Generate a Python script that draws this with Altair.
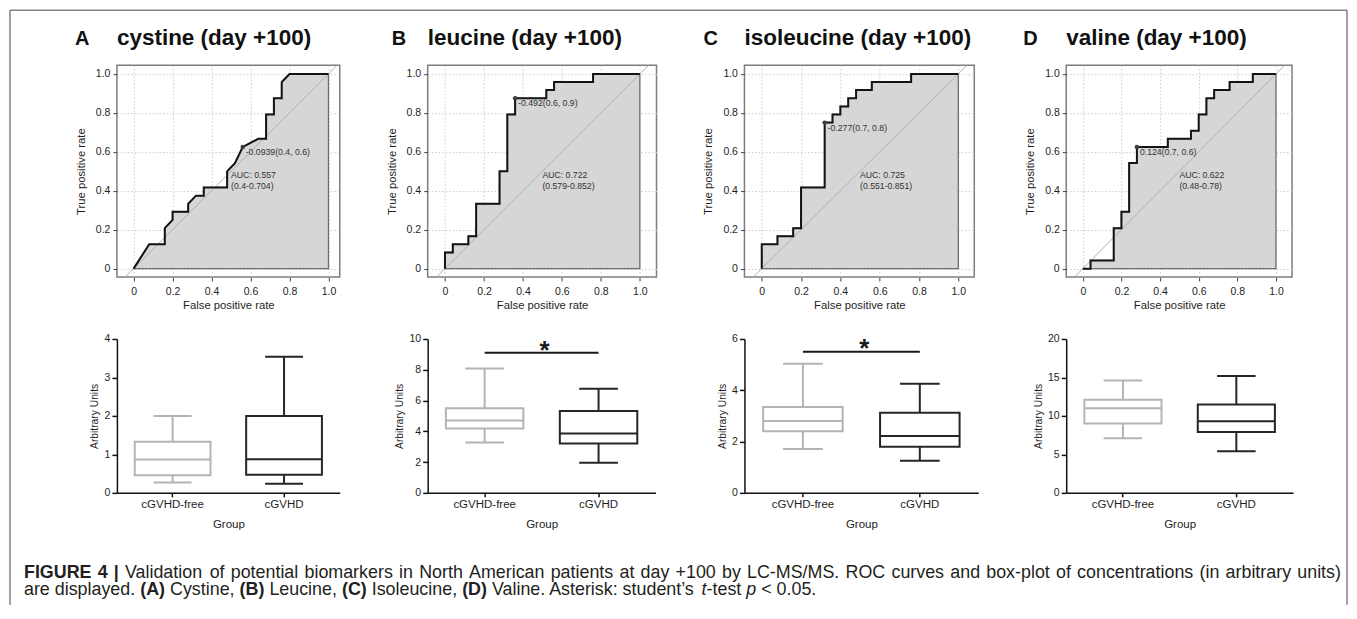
import altair as alt
import pandas as pd

FONT = "Liberation Sans"

# ---------------- data ----------------
letters = ["A", "B", "C", "D"]
titles = ["cystine (day +100)", "leucine (day +100)", "isoleucine (day +100)", "valine (day +100)"]

fpr_A = [0, 0.08, 0.16, 0.16, 0.20, 0.20, 0.28, 0.28, 0.32, 0.36, 0.36, 0.48, 0.48, 0.52, 0.56, 0.60, 0.64, 0.68, 0.68, 0.72, 0.72, 0.76, 0.76, 0.80, 1.0]
tpr_A = [0, 0.125, 0.125, 0.208, 0.25, 0.292, 0.292, 0.333, 0.375, 0.375, 0.417, 0.417, 0.5, 0.542, 0.625, 0.646, 0.667, 0.667, 0.792, 0.792, 0.875, 0.875, 0.958, 1.0, 1.0]
fpr_B = [0, 0, 0.04, 0.04, 0.12, 0.12, 0.16, 0.16, 0.28, 0.28, 0.32, 0.32, 0.36, 0.36, 0.52, 0.52, 0.56, 0.56, 0.76, 0.76, 1.0]
tpr_B = [0, 0.083, 0.083, 0.125, 0.125, 0.167, 0.167, 0.333, 0.333, 0.5, 0.5, 0.792, 0.792, 0.875, 0.875, 0.917, 0.917, 0.958, 0.958, 1.0, 1.0]
fpr_C = [0, 0, 0.08, 0.08, 0.16, 0.16, 0.20, 0.20, 0.32, 0.32, 0.36, 0.36, 0.40, 0.40, 0.44, 0.44, 0.48, 0.48, 0.56, 0.56, 0.76, 0.76, 1.0]
tpr_C = [0, 0.125, 0.125, 0.167, 0.167, 0.208, 0.208, 0.417, 0.417, 0.75, 0.75, 0.792, 0.792, 0.833, 0.833, 0.875, 0.875, 0.917, 0.917, 0.958, 0.958, 1.0, 1.0]
fpr_D = [0, 0.04, 0.04, 0.16, 0.16, 0.20, 0.20, 0.24, 0.24, 0.28, 0.28, 0.44, 0.44, 0.56, 0.56, 0.60, 0.60, 0.64, 0.64, 0.68, 0.68, 0.76, 0.76, 0.88, 0.88, 1.0]
tpr_D = [0, 0, 0.042, 0.042, 0.208, 0.208, 0.292, 0.292, 0.542, 0.542, 0.625, 0.625, 0.667, 0.667, 0.708, 0.708, 0.792, 0.792, 0.875, 0.875, 0.917, 0.917, 0.958, 0.958, 1.0, 1.0]
roc_fpr = [fpr_A, fpr_B, fpr_C, fpr_D]
roc_tpr = [tpr_A, tpr_B, tpr_C, tpr_D]

best_fpr = [0.56, 0.36, 0.32, 0.28]
best_tpr = [0.625, 0.875, 0.75, 0.625]
best_labels = ["-0.0939(0.4, 0.6)", "-0.492(0.6, 0.9)", "-0.277(0.7, 0.8)", "0.124(0.7, 0.6)"]
auc_labels = [["AUC: 0.557", "(0.4-0.704)"], ["AUC: 0.722", "(0.579-0.852)"],
              ["AUC: 0.725", "(0.551-0.851)"], ["AUC: 0.622", "(0.48-0.78)"]]
auc_pos = [0.5, 0.48]
diag = [-0.2, 1.2]
roc_grid = [0, 0.1, 0.2, 0.3, 0.4, 0.5, 0.6, 0.7, 0.8, 0.9, 1.0]

groups = ["cGVHD-free", "cGVHD"]
box_lo = [[0.27, 0.24], [3.28, 1.96], [1.71, 1.25], [7.1, 5.4]]
box_q1 = [[0.455, 0.47], [4.18, 3.21], [2.4, 1.8], [9.0, 7.9]]
box_med = [[0.87, 0.875], [4.7, 3.86], [2.8, 2.22], [11.0, 9.3]]
box_q3 = [[1.33, 2.0], [5.5, 5.32], [3.35, 3.12], [12.1, 11.5]]
box_hi = [[2.0, 3.54], [8.08, 6.77], [5.03, 4.25], [14.6, 15.2]]
box_yticks = [[0, 1, 2, 3, 4], [0, 2, 4, 6, 8, 10], [0, 2, 4, 6], [0, 5, 10, 15, 20]]
sig_y = [None, 9.1, 5.5, None]
star_y = [None, 9.63, 5.83, None]

caption_line1 = ("FIGURE 4 | Validation of potential biomarkers in North American patients at day +100 "
                 "by LC-MS/MS. ROC curves and box-plot of concentrations (in arbitrary units)")
caption_line2 = [("are displayed. ", "r"), ("(A)", "b"), (" Cystine, ", "r"), ("(B)", "b"),
                 (" Leucine, ", "r"), ("(C)", "b"), (" Isoleucine, ", "r"), ("(D)", "b"),
                 (" Valine. Asterisk: student\u2019s ", "r"), ("t", "i"), ("-test ", "r"),
                 ("p", "i"), (" < 0.05.", "r")]

# ---------------- layout / style ----------------
ROC_W = [223, 229, 230, 226]
ROC_H = 212
ROC_X0 = [16.7, 17.3, 17.3, 16.6]      # px from frame left to x=0
ROC_PPU = [195, 195, 196.7, 193.3]     # px per unit
roc_xdom = [[-o / p, (w - o) / p] for o, p, w in zip(ROC_X0, ROC_PPU, ROC_W)]
roc_ydom = [-0.043, 1.045]
LETTER_DX = [-42, -36, -41, -43]
BOX_W = [223, 228, 234, 227]
BOX_H = 154
PAD_IN, PAD_OUT = 0.32, 0.16
BOX_COLORS = ["#b4b4b4", "#262626"]
FILL = "#d6d6d6"
TXT = "#1e1e1e"

one = pd.DataFrame({"k": [0]})

lab_expr = ("(round(datum.value*10) % 2 == 0) ? "
            "(datum.value == 0 ? '0' : format(datum.value, '.1f')) : ''")
tick_cond = {"condition": {"test": "round(datum.value*10) % 2 == 1", "value": 0}, "value": 1}


def roc_axis(title, orient):
    common = dict(title=title, values=roc_grid, labelExpr=lab_expr, tickOpacity=tick_cond,
                  grid=True, gridColor="#cdcdcd", gridDash=[1.5, 2], gridWidth=1,
                  domain=False, tickSize=4, tickColor="#444", tickWidth=1,
                  labelFontSize=10.5, titleFontSize=11.3, titleFontWeight="normal",
                  labelColor=TXT, titleColor=TXT, labelOverlap=False, labelFlush=False)
    if orient == "x":
        return alt.Axis(labelPadding=5, titlePadding=3, **common)
    return alt.Axis(labelPadding=3, titlePadding=9, **common)


def roc_panel(k):
    xs = alt.Scale(domain=roc_xdom[k], nice=False, zero=False)
    ys = alt.Scale(domain=roc_ydom, nice=False, zero=False)
    ax_x = roc_axis("False positive rate", "x")
    ax_y = roc_axis("True positive rate", "y")

    def X(f):
        return alt.X(f, type="quantitative", scale=xs, axis=ax_x)

    def Y(f):
        return alt.Y(f, type="quantitative", scale=ys, axis=ax_y)

    df = pd.DataFrame({"fpr": roc_fpr[k], "tpr": roc_tpr[k], "idx": list(range(len(roc_fpr[k])))})
    ddf = pd.DataFrame({"d": diag})
    bdf = pd.DataFrame({"fpr": [best_fpr[k]], "tpr": [best_tpr[k]], "lab": [best_labels[k]]})

    area = alt.Chart(df).mark_area(fill=FILL, stroke="#6e6e6e", strokeWidth=1.3,
                                   orient="vertical").encode(
        x=X("fpr"), y=Y("tpr"), y2=alt.datum(0))
    dline = alt.Chart(ddf).mark_line(clip=True, color="#b0b0b0", strokeWidth=1).encode(
        x=X("d"), y=Y("d"))
    curve = alt.Chart(df).mark_line(color="#141414", strokeWidth=2).encode(
        x=X("fpr"), y=Y("tpr"), order="idx:Q")
    pt = alt.Chart(bdf).mark_circle(size=20, color="#3c3c3c", opacity=1).encode(
        x=X("fpr"), y=Y("tpr"))
    lab = alt.Chart(bdf).mark_text(align="left", baseline="middle", dx=3, dy=5, fontSize=8.7,
                                   color="#333", font=FONT).encode(
        x=X("fpr"), y=Y("tpr"), text="lab:N")
    auc = alt.Chart(one).mark_text(align="left", baseline="middle", fontSize=8.7, lineHeight=10.5,
                                   color="#333", font=FONT).encode(
        x=alt.datum(auc_pos[0]), y=alt.datum(auc_pos[1]), text=alt.value(auc_labels[k]))
    let = alt.Chart(one).mark_text(align="left", baseline="alphabetic", fontSize=20,
                                   fontWeight="bold", color="#111", font=FONT).encode(
        x=alt.value(LETTER_DX[k]), y=alt.value(-20), text=alt.value(letters[k]))
    ttl = alt.Chart(one).mark_text(align="left", baseline="alphabetic", fontSize=22.5,
                                   fontWeight="bold", color="#111", font=FONT).encode(
        x=alt.value(0), y=alt.value(-20), text=alt.value(titles[k]))
    return alt.layer(area, dline, curve, pt, lab, auc, let, ttl).properties(
        width=ROC_W[k], height=ROC_H,
        view=alt.ViewBackground(stroke="#7d7d7d", strokeWidth=1.5))


def box_panel(k):
    df = pd.DataFrame({"g": groups, "lo": box_lo[k], "q1": box_q1[k], "med": box_med[k],
                       "q3": box_q3[k], "hi": box_hi[k]})
    xs = alt.Scale(domain=groups, paddingInner=PAD_IN, paddingOuter=PAD_OUT)
    ys = alt.Scale(domain=[0, box_yticks[k][-1]], nice=False, zero=True)
    ax_x = alt.Axis(title="Group", labelAngle=0, domainColor="#111", domainWidth=1.5,
                    tickColor="#111", tickWidth=1.5, tickSize=4, labelFontSize=11.5,
                    titleFontSize=11.5, titleFontWeight="normal", labelPadding=1.5,
                    titlePadding=8.5, labelColor=TXT, titleColor=TXT, grid=False)
    ax_y = alt.Axis(title="Arbitrary Units", values=box_yticks[k], domainColor="#111",
                    domainWidth=1.5, tickColor="#111", tickWidth=1.5, tickSize=5,
                    labelFontSize=10.5, titleFontSize=10.3, titleFontWeight="normal",
                    labelPadding=2, titlePadding=4.5, labelColor=TXT, titleColor=TXT,
                    grid=False, labelFlush=False)
    cscale = alt.Scale(domain=groups, range=BOX_COLORS)

    def X(bp, f="g:N"):
        return alt.X(f, scale=xs, axis=ax_x, bandPosition=bp)

    def Y(f):
        return alt.Y(f, type="quantitative", scale=ys, axis=ax_y)

    col = alt.Color("g:N", scale=cscale, legend=None)
    base = alt.Chart(df)
    w_lo = base.mark_rule(strokeWidth=2).encode(x=X(0.5), y=Y("lo"), y2="q1", color=col)
    w_hi = base.mark_rule(strokeWidth=2).encode(x=X(0.5), y=Y("q3"), y2="hi", color=col)
    c_lo = base.mark_rule(strokeWidth=2).encode(
        x=X(0.25), x2=alt.X2("g:N", bandPosition=0.75), y=Y("lo"), color=col)
    c_hi = base.mark_rule(strokeWidth=2).encode(
        x=X(0.25), x2=alt.X2("g:N", bandPosition=0.75), y=Y("hi"), color=col)
    box = base.mark_bar(fill="white", strokeWidth=2).encode(
        x=alt.X("g:N", scale=xs, axis=ax_x), y=Y("q1"), y2="q3",
        stroke=alt.Stroke("g:N", scale=cscale, legend=None))
    med = base.mark_rule(strokeWidth=2).encode(
        x=X(0.0), x2=alt.X2("g:N", bandPosition=1.0), y=Y("med"), color=col)
    layers = [w_lo, w_hi, c_lo, c_hi, box, med]
    if sig_y[k] is not None:
        sdf = pd.DataFrame({"g1": [groups[0]], "g2": [groups[1]], "sy": [sig_y[k]], "ay": [star_y[k]]})
        sb = alt.Chart(sdf).mark_rule(color="#1a1a1a", strokeWidth=2).encode(
            x=X(0.5, "g1:N"), x2=alt.X2("g2:N", bandPosition=0.5), y=Y("sy"))
        # asterisk centred between the two groups: end of first band + half the inner gap
        star_dx = PAD_OUT * BOX_W[k] / 2 + 3
        st = alt.Chart(sdf).mark_text(text="*", fontSize=26, fontWeight="bold", color="#1a1a1a",
                                      baseline="alphabetic", align="center", dx=star_dx, dy=14,
                                      font=FONT).encode(
            x=X(1.0, "g1:N"), y=Y("ay"))
        layers += [sb, st]
    return alt.layer(*layers).properties(width=BOX_W[k], height=BOX_H)


# ---------------- caption (Arial / Liberation Sans metrics) ----------------
REG = {' ': 278, '(': 333, ')': 333, '+': 584, ',': 278, '-': 333, '.': 278, '/': 278,
       ':': 278, '<': 584, '|': 260, '\u2019': 222, "'": 191}
BOLD = {' ': 278, '(': 333, ')': 333, '|': 280, ',': 278, '.': 278}
for d in "0123456789":
    REG[d] = 556
    BOLD[d] = 556
REG.update(dict(zip("ABCDEFGHIJKLMNOPQRSTUVWXYZ",
                    [667, 667, 722, 722, 667, 611, 778, 722, 278, 500, 667, 556, 833, 722, 778,
                     667, 778, 722, 667, 611, 722, 667, 944, 667, 667, 611])))
REG.update(dict(zip("abcdefghijklmnopqrstuvwxyz",
                    [556, 556, 500, 556, 556, 278, 556, 556, 222, 222, 500, 222, 833, 556, 556,
                     556, 556, 333, 500, 278, 556, 500, 722, 500, 500, 500])))
BOLD.update(dict(zip("ABCDEFGHIJKLMNOPQRSTUVWXYZ",
                     [722, 722, 722, 722, 667, 611, 778, 722, 278, 556, 722, 611, 833, 722, 778,
                      667, 778, 722, 667, 611, 722, 667, 944, 667, 667, 611])))


def units(s, style):
    tbl = BOLD if style == "b" else REG
    return sum(tbl.get(c, 556) for c in s)


CAP_X0 = -93          # relative to caption panel origin
CAP_LINE1_W = 1318
CAP_LINE2_W = 793
CAP_Y1, CAP_Y2 = 23, 40.5
cap_fs = CAP_LINE2_W / (sum(units(t, s) for t, s in caption_line2) / 1000.0)
CAP_COLOR = "#231f20"


def cap_text(txt, x, y, style):
    kw = dict(align="left", baseline="alphabetic", fontSize=cap_fs, color=CAP_COLOR, font=FONT)
    if style == "b":
        kw["fontWeight"] = "bold"
    if style == "i":
        kw["fontStyle"] = "italic"
    return alt.Chart(one).mark_text(**kw).encode(x=alt.value(x), y=alt.value(y), text=alt.value(txt))


cap_layers = []
words = caption_line1.split(" ")
wstyles = ["b" if i < 3 else "r" for i in range(len(words))]
nat = sum(units(w, s) for w, s in zip(words, wstyles)) * cap_fs / 1000.0
sp = 278 * cap_fs / 1000.0
gap = sp + (CAP_LINE1_W - nat - sp * (len(words) - 1)) / (len(words) - 1)
x = CAP_X0
for w, s in zip(words, wstyles):
    cap_layers.append(cap_text(w, x, CAP_Y1, s))
    x += units(w, s) * cap_fs / 1000.0 + gap
x = CAP_X0
for t, s in caption_line2:
    lead = len(t) - len(t.lstrip(" "))
    xs_ = x + lead * sp
    if t.strip():
        cap_layers.append(cap_text(t.strip(), xs_, CAP_Y2, s))
    x += units(t, s) * cap_fs / 1000.0

# figure frame
FR = "#808080"
fl, fr, ft, fb = -107, 1231, -545, 50
cap_layers.append(alt.Chart(one).mark_rule(color=FR, strokeWidth=1.5).encode(
    x=alt.value(fl), x2=alt.value(fr), y=alt.value(ft)))
cap_layers.append(alt.Chart(one).mark_rule(color=FR, strokeWidth=1.5).encode(
    x=alt.value(fl), y=alt.value(ft), y2=alt.value(fb)))
cap_layers.append(alt.Chart(one).mark_rule(color=FR, strokeWidth=1.5).encode(
    x=alt.value(fr), y=alt.value(ft), y2=alt.value(fb)))
caption = alt.layer(*cap_layers).properties(width=ROC_W[0], height=48)

charts = [roc_panel(k) for k in range(4)] + [box_panel(k) for k in range(4)] + [caption]
chart = alt.concat(*charts, columns=4, spacing={"row": 62, "column": 88},
                   bounds="flush", align="none").properties(
    padding=0, background="white"
).configure_view(stroke="transparent").configure_axis(
    labelFont=FONT, titleFont=FONT).configure_text(font=FONT)

chart.save("out.html", embed_options={"renderer": "svg", "actions": False})
